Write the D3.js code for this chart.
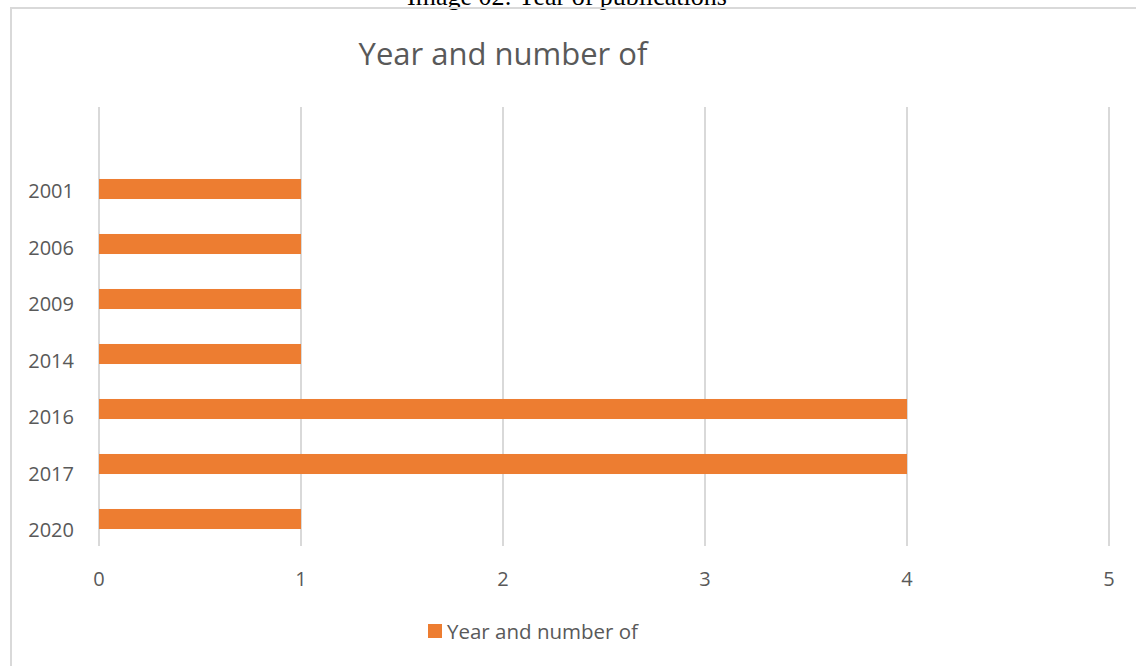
<!DOCTYPE html>
<html>
<head>
<meta charset="utf-8">
<script src="https://cdn.jsdelivr.net/npm/d3@7"></script>
<style>
  body { margin: 0; background: #fff; }
  text { font-family: "Open Sans", sans-serif; fill: #595959; }
</style>
</head>
<body>
<div id="chart"></div>
<script>
// data
var years = ["2001", "2006", "2009", "2014", "2016", "2017", "2020"];
var counts = [1, 1, 1, 1, 4, 4, 1];
var xTicks = [0, 1, 2, 3, 4, 5];
var seriesName = "Year and number of";

var width = 1136, height = 666;

var svg = d3.select("#chart").append("svg")
    .attr("width", width)
    .attr("height", height);

// caption above the chart box (cut off at top in the original too)
svg.append("text")
    .attr("x", 567).attr("y", 5)
    .attr("text-anchor", "middle")
    .style("font-family", "'Liberation Serif', serif")
    .style("font-size", "26px")
    .style("fill", "#000")
    .text("Image 02: Year of publications");

// chart frame
svg.append("path")
    .attr("d", "M11," + height + "V8H" + width)
    .attr("fill", "none")
    .attr("stroke", "#d9d9d9")
    .attr("stroke-width", 2);

var x = d3.scaleLinear().domain([0, 5]).range([99, 1109]);

var y = d3.scaleBand().domain(years)
    .range([161.5, 546.5])
    .paddingInner(0.636)
    .paddingOuter(0.318);

// label positions drift slightly from the bars in the original
var yLab = d3.scaleBand().domain(years).range([162.75, 558.25]);

var gridTop = 107, gridBottom = 546;

svg.append("g").selectAll("line")
    .data(xTicks)
    .enter().append("line")
      .attr("x1", function(d) { return x(d); })
      .attr("x2", function(d) { return x(d); })
      .attr("y1", gridTop)
      .attr("y2", gridBottom)
      .attr("stroke", "#d9d9d9")
      .attr("stroke-width", 2);

svg.append("g").selectAll("rect")
    .data(years)
    .enter().append("rect")
      .attr("x", x(0))
      .attr("y", function(d) { return y(d); })
      .attr("width", function(d, i) { return x(counts[i]) - x(0); })
      .attr("height", y.bandwidth())
      .attr("fill", "#ED7D31");

// year labels
svg.append("g").selectAll("text")
    .data(years)
    .enter().append("text")
      .attr("x", 74)
      .attr("y", function(d) { return yLab(d) + yLab.bandwidth() / 2; })
      .attr("dy", "0.35em")
      .attr("text-anchor", "end")
      .style("font-size", "20px")
      .text(function(d) { return d; });

// value axis labels
svg.append("g").selectAll("text")
    .data(xTicks)
    .enter().append("text")
      .attr("x", function(d) { return x(d); })
      .attr("y", 586)
      .attr("text-anchor", "middle")
      .style("font-size", "20px")
      .text(function(d) { return d; });

// title
svg.append("text")
    .attr("x", 503).attr("y", 65)
    .attr("text-anchor", "middle")
    .style("font-size", "31px")
    .text(seriesName);

// legend
var lg = svg.append("g").attr("transform", "translate(428,624)");
lg.append("rect")
    .attr("width", 14).attr("height", 14)
    .attr("fill", "#ED7D31");
lg.append("text")
    .attr("x", 19).attr("y", 15)
    .style("font-size", "20.5px")
    .text(seriesName);
</script>
</body>
</html>
